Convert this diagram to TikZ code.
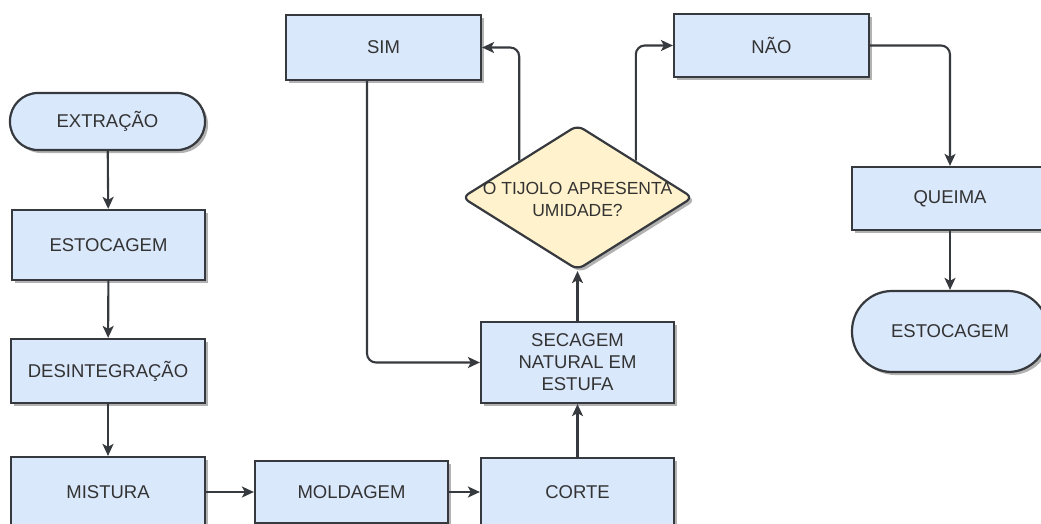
\documentclass[tikz,border=0pt]{standalone}
\usepackage{fontspec}
\setmainfont{Liberation Sans}
\usetikzlibrary{arrows.meta,shapes.geometric,shadows}
\definecolor{boxfill}{HTML}{DAE8FC}
\definecolor{decfill}{HTML}{FFF2CC}
\definecolor{edge}{HTML}{36393D}
\definecolor{txt}{HTML}{333333}
\tikzset{
  base/.style={draw=edge, line width=2.2pt, text=txt, inner sep=2pt, align=center,
    font=\fontsize{18.5}{22}\selectfont,
    drop shadow={shadow xshift=3pt, shadow yshift=-3pt, opacity=0.3, fill=black}},
  procbox/.style={base, rectangle, fill=boxfill},
  termbox/.style={base, rectangle, fill=boxfill},
  decision/.style={base, diamond, fill=decfill, rounded corners=7pt, inner sep=0pt},
  qtext/.style={text=txt, align=center, font=\fontsize{17.5}{22}\selectfont},
  conn/.style={draw=edge, line width=2.1pt, rounded corners=9pt,
    -{Stealth[length=12pt,width=11pt,inset=3pt]}}
}
\begin{document}
\begin{tikzpicture}[x=1pt,y=-1pt]
\useasboundingbox (0,0) rectangle (1041,524);
\clip (0,0) rectangle (1041,524);
% left column
\node[termbox, rounded corners=28pt, minimum width=195pt, minimum height=57pt] (ext) at (107.5,121.5) {EXTRAÇÃO};
\node[procbox, minimum width=193pt, minimum height=70pt] (est1) at (108.5,245) {ESTOCAGEM};
\node[procbox, minimum width=194pt, minimum height=64pt] (des) at (108,371) {DESINTEGRAÇÃO};
\node[procbox, minimum width=194pt, minimum height=70pt] (mis) at (108,492) {MISTURA};
\node[procbox, minimum width=193pt, minimum height=62pt] (mol) at (351.5,492) {MOLDAGEM};
\node[procbox, minimum width=193pt, minimum height=68pt] (cor) at (577.5,492) {CORTE};
\node[procbox, minimum width=193pt, minimum height=81pt] (sec) at (577.5,362.5) {SECAGEM\\NATURAL EM\\ESTUFA};
\node[decision, minimum width=231pt, minimum height=145pt] (q) at (577.5,197.5) {};
\node[qtext] (qt) at (577.5,199) {O TIJOLO APRESENTA\\UMIDADE?};
\node[procbox, minimum width=195pt, minimum height=65pt] (sim) at (383.5,47.5) {SIM};
\node[procbox, minimum width=195pt, minimum height=63pt] (nao) at (771.5,45.5) {NÃO};
\node[procbox, minimum width=196pt, minimum height=63pt] (que) at (950,198.5) {QUEIMA};
\node[termbox, rounded corners=40pt, minimum width=196pt, minimum height=81pt] (est2) at (950,331.5) {ESTOCAGEM};
% connectors
\draw[conn] (ext) -- (est1);
\draw[conn] (est1) -- (des);
\draw[conn] (des) -- (mis);
\draw[conn] (mis) -- (mol);
\draw[conn] (mol) -- (cor);
\draw[conn] (cor) -- (sec);
\draw[conn] (sec) -- (q);
\draw[conn] (q.north west) |- (sim.east);
\draw[conn] (q.north east) |- (nao.west);
\draw[conn] (nao.east) -| (que.north);
\draw[conn] (que) -- (est2);
\coordinate (simout) at ([xshift=-16.5pt]sim.south);
\draw[conn] (simout) |- (sec.west);
\end{tikzpicture}
\end{document}
